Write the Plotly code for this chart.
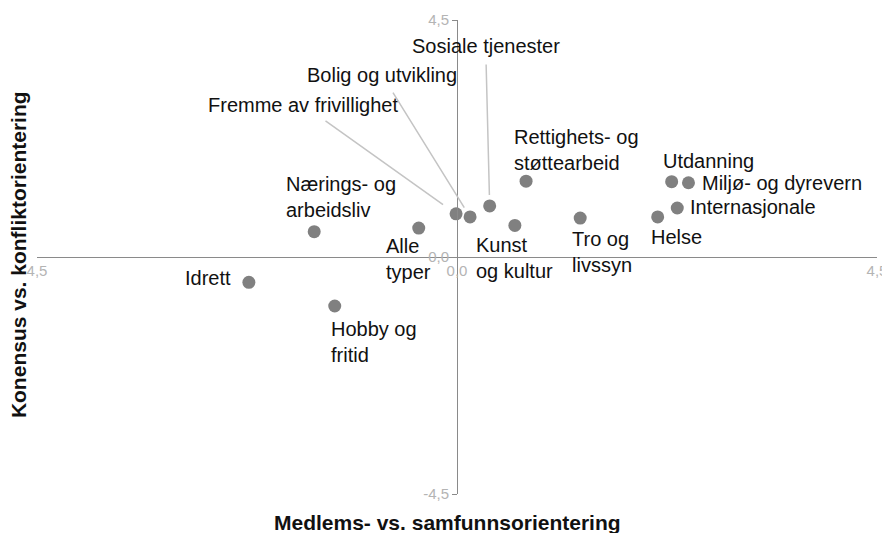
import plotly.graph_objects as go

# verdier lest av figuren
kategorier = ["Idrett", "Hobby og fritid", "Nærings- og arbeidsliv", "Alle typer",
              "Fremme av frivillighet", "Bolig og utvikling", "Sosiale tjenester",
              "Kunst og kultur", "Rettighets- og støttearbeid", "Tro og livssyn",
              "Helse", "Utdanning", "Miljø- og dyrevern", "Internasjonale"]
medlem_samfunn = [-2.23, -1.31, -1.53, -0.41, -0.01, 0.14, 0.35,
                  0.62, 0.74, 1.32, 2.15, 2.30, 2.48, 2.36]
konsensus_konflikt = [-0.48, -0.93, 0.48, 0.55, 0.82, 0.76, 0.97,
                      0.60, 1.44, 0.74, 0.76, 1.43, 1.41, 0.93]
akse_ticks = [-4.5, 0, 4.5]
x_ticktekst = ["4,5", "0,0", "4,5"]
y_ticktekst = ["-4,5", "0,0", "4,5"]

# etiketter: tekst, xanchor, xshift, yshift (pixler)
etiketter = {
    "Idrett": ("Idrett", "right", -16, 4),
    "Hobby og fritid": ("Hobby og<br>fritid", "left", -6, -36),
    "Nærings- og arbeidsliv": ("Nærings- og<br>arbeidsliv", "left", -30, 35),
    "Alle typer": ("Alle<br>typer", "left", -35, -31),
    "Kunst og kultur": ("Kunst<br>og kultur", "left", -41, -33),
    "Rettighets- og støttearbeid": ("Rettighets- og<br>støttearbeid", "left", -14, 31),
    "Tro og livssyn": ("Tro og<br>livssyn", "left", -10, -34),
    "Helse": ("Helse", "left", -9, -20),
    "Utdanning": ("Utdanning", "left", -11, 21),
    "Miljø- og dyrevern": ("Miljø- og dyrevern", "left", 12, 0),
    "Internasjonale": ("Internasjonale", "left", 11, 1),
}
# etiketter med strek: ax, ay, standoff
piler = {
    "Fremme av frivillighet": (-153, -109, 16),
    "Bolig og utvikling": (-88, -142, 11),
    "Sosiale tjenester": (-4, -160, 11),
}

fig = go.Figure()
fig.add_trace(go.Scatter(x=medlem_samfunn, y=konsensus_konflikt, mode="markers",
                         marker=dict(color="#808080", size=13), hoverinfo="text",
                         text=kategorier, showlegend=False))

font_lbl = dict(family="Liberation Sans, Arial, sans-serif", size=20, color="#111111")
for navn, xv, yv in zip(kategorier, medlem_samfunn, konsensus_konflikt):
    if navn in etiketter:
        txt, anc, dx, dy = etiketter[navn]
        fig.add_annotation(x=xv, y=yv, text=txt, showarrow=False, xanchor=anc, yanchor="middle",
                           xshift=dx, yshift=dy, align="left", font=font_lbl)
    else:
        ax, ay, so = piler[navn]
        fig.add_annotation(x=xv, y=yv, text=navn, showarrow=True, arrowhead=0, arrowwidth=1.5,
                           arrowcolor="#c4c4c4", ax=ax, ay=ay, standoff=so, startstandoff=6,
                           font=font_lbl)

# aksetitler
fig.add_annotation(x=0.489, y=-0.061, xref="paper", yref="paper", text="<b>Medlems- vs. samfunnsorientering</b>",
                   showarrow=False, xanchor="center", yanchor="middle",
                   font=dict(family="Liberation Sans, Arial, sans-serif", size=21, color="#111111"))
fig.add_annotation(x=-0.0226, y=0.504, xref="paper", yref="paper", text="<b>Konensus vs. konfliktorientering</b>",
                   showarrow=False, textangle=-90, xanchor="center", yanchor="middle",
                   font=dict(family="Liberation Sans, Arial, sans-serif", size=21, color="#111111"))

tickfont = dict(family="Liberation Sans, Arial, sans-serif", size=15, color="#b4b4b4")
fig.update_xaxes(range=[-4.5, 4.5], anchor="free", position=0.5, showline=True, linecolor="#8a8a8a",
                 linewidth=1, showgrid=False, zeroline=False, ticks="inside", ticklen=5,
                 tickcolor="#8a8a8a", tickvals=akse_ticks, ticktext=x_ticktekst, tickfont=tickfont,
                 automargin=False)
fig.update_yaxes(range=[-4.5, 4.5], anchor="free", position=0.5, showline=True, linecolor="#8a8a8a",
                 linewidth=1, showgrid=False, zeroline=False, ticks="outside", ticklen=5,
                 tickcolor="#8a8a8a", tickvals=akse_ticks, ticktext=y_ticktekst, tickfont=tickfont,
                 automargin=False)

# siden har 8px kant rundt figuren, derfor 882x525
fig.update_layout(width=882, height=525, margin=dict(l=29, r=13, t=12, b=39, autoexpand=False),
                  plot_bgcolor="white", paper_bgcolor="white")

fig.write_html("out.html")
